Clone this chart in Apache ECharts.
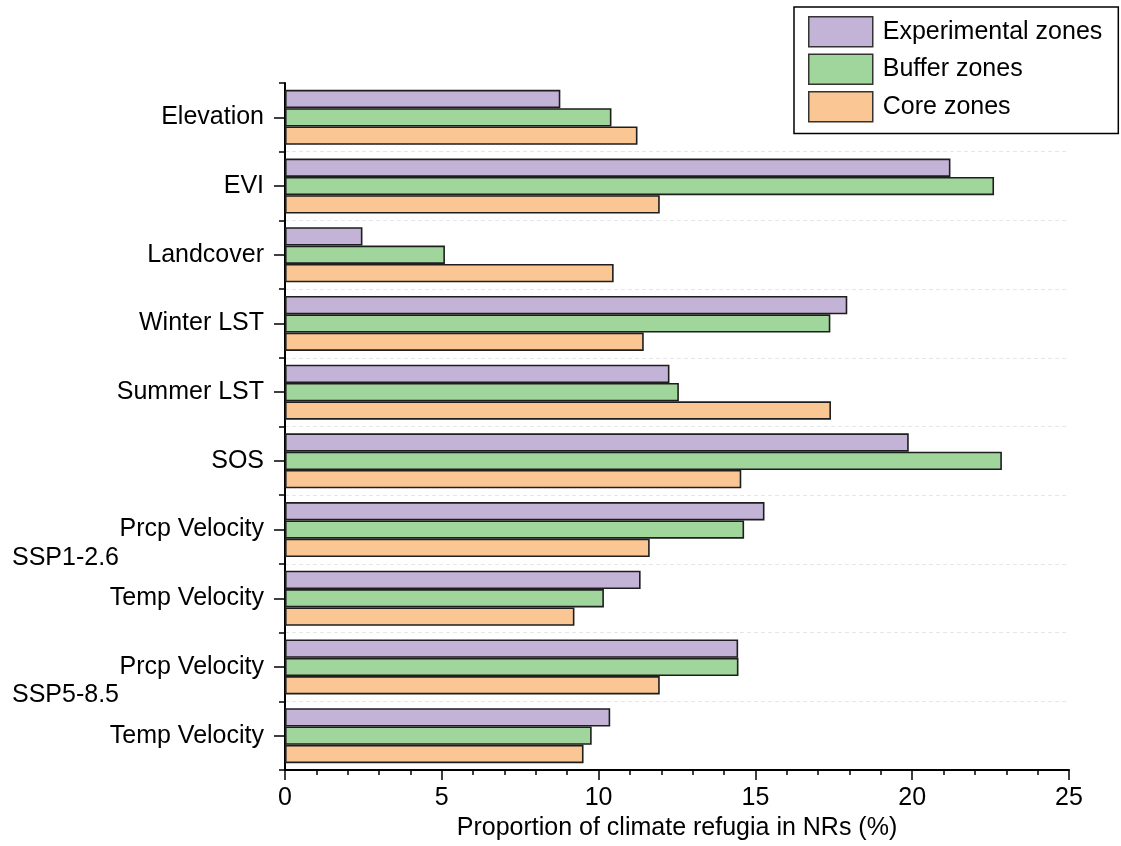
<!DOCTYPE html>
<html>
<head>
<meta charset="utf-8">
<script src="https://cdn.jsdelivr.net/npm/echarts@6/dist/echarts.min.js"></script>
<style>
html,body{margin:0;padding:0;background:#fff;}
#chart{width:1121px;height:846px;}
</style>
</head>
<body>
<div id="chart"></div>
<script>
const categories = ['Elevation', 'EVI', 'Landcover', 'Winter LST', 'Summer LST', 'SOS', 'Prcp Velocity', 'Temp Velocity', 'Prcp Velocity', 'Temp Velocity'];
const seriesNames = ['Experimental zones', 'Buffer zones', 'Core zones'];
const experimental = [8.78, 21.22, 2.47, 17.93, 12.26, 19.89, 15.29, 11.34, 14.45, 10.37];
const buffer = [10.41, 22.61, 5.10, 17.39, 12.56, 22.86, 14.64, 10.17, 14.46, 9.78];
const core = [11.24, 11.95, 10.48, 11.44, 17.41, 14.55, 11.63, 9.23, 11.95, 9.52];
const scenarioLabels = ['SSP1-2.6', 'SSP5-8.5'];
const scenarioAfterIndex = [6, 8];
const xTicks = [0, 5, 10, 15, 20, 25];
const xName = 'Proportion of climate refugia in NRs (%)';

const colors = ['#C3B3D7', '#A0D69C', '#FAC794'];
const FONT = '"Liberation Sans", Arial, sans-serif';
const FS = 25;
const chart = echarts.init(document.getElementById('chart'), null, {renderer: 'canvas'});

const gridPos = {left: 285, right: 52, top: 83, bottom: 76, containLabel: false};
const values = [experimental, buffer, core];

const option = {
  backgroundColor: '#fff',
  animation: false,
  textStyle: {fontFamily: FONT},
  grid: [Object.assign({}, gridPos), Object.assign({}, gridPos)],
  legend: {
    data: seriesNames,
    orient: 'vertical',
    left: 794,
    top: 7,
    padding: [9, 16, 11, 14],
    itemWidth: 64,
    itemHeight: 30,
    itemGap: 6,
    icon: 'rect',
    borderColor: '#000',
    borderWidth: 1.5,
    textStyle: {fontSize: FS, color: '#000', fontFamily: FONT, padding: [0, 0, 0, 5]},
    itemStyle: {borderColor: '#333', borderWidth: 1.5}
  },
  xAxis: [{
    type: 'value',
    gridIndex: 0,
    min: xTicks[0],
    max: xTicks[xTicks.length - 1],
    interval: xTicks[1] - xTicks[0],
    name: xName,
    nameLocation: 'middle',
    nameGap: 36,
    nameTextStyle: {fontSize: FS, color: '#000', fontFamily: FONT},
    axisLine: {show: true, lineStyle: {color: '#000', width: 2}},
    axisTick: {show: true, length: 10, lineStyle: {color: '#000', width: 1.5}},
    minorTick: {show: true, splitNumber: 5, length: 5, lineStyle: {color: '#000', width: 1.5}},
    axisLabel: {fontSize: FS, color: '#000', margin: 16, fontFamily: FONT},
    splitLine: {show: false}
  }, {
    type: 'value',
    gridIndex: 1,
    show: false,
    min: 0,
    max: 25
  }],
  yAxis: [{
    type: 'category',
    gridIndex: 0,
    data: categories,
    inverse: true,
    boundaryGap: true,
    axisLine: {show: true, lineStyle: {color: '#000', width: 2}},
    axisTick: {show: true, alignWithLabel: true, length: 11, lineStyle: {color: '#000', width: 1.5}},
    axisLabel: {fontSize: FS, color: '#000', margin: 21, fontFamily: FONT, padding: [0, 0, 7, 0]},
    splitLine: {show: true, interval: function (index) { return index !== 0; }, lineStyle: {color: '#e6e6e6', width: 1, type: [4, 3]}}
  }, {
    type: 'category',
    gridIndex: 1,
    data: categories,
    inverse: true,
    boundaryGap: true,
    position: 'left',
    axisLine: {show: false},
    axisTick: {show: true, alignWithLabel: false, length: 6, lineStyle: {color: '#000', width: 1.5}},
    axisLabel: {show: false},
    splitLine: {show: false}
  }],
  series: seriesNames.map((name, i) => ({
    name: name,
    type: 'bar',
    xAxisIndex: 0,
    yAxisIndex: 0,
    data: values[i],
    barCategoryGap: '20%',
    barGap: '0%',
    itemStyle: {color: colors[i], borderColor: '#1e1e1e', borderWidth: 1.6}
  }))
};
chart.setOption(option);

const graphics = scenarioLabels.map((label, k) => {
  const idx = scenarioAfterIndex[k];
  const y1 = chart.convertToPixel({yAxisIndex: 0}, idx);
  const y2 = chart.convertToPixel({yAxisIndex: 0}, idx + 1);
  return {
    type: 'text',
    left: 12,
    top: (y1 + y2) / 2 - 6 - FS / 2,
    style: {text: label, fill: '#000', font: FS + 'px ' + FONT}
  };
});
chart.setOption({graphic: graphics});
</script>
</body>
</html>
